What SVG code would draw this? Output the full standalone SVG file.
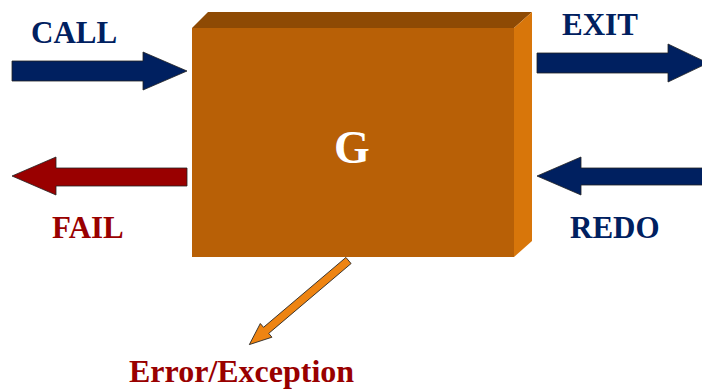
<svg xmlns="http://www.w3.org/2000/svg" width="702" height="390" viewBox="0 0 702 390">
<style>
.lbl{font-family:"Liberation Serif","Times New Roman",serif;font-weight:bold;font-size:31px}
.navy{fill:#002060}
.red{fill:#990000}
.arr{stroke:#222;stroke-width:0.8;stroke-linejoin:miter}
</style>
<rect width="702" height="390" fill="#ffffff"/>
<g id="G">
<polygon points="192,28 208,12 532,12 514,28" fill="#8E4A04"/>
<polygon points="514,28 532,12 532,241 514,257" fill="#D8760A"/>
<rect x="192" y="28" width="322" height="229" fill="#B86006"/>
<text x="352" y="163" text-anchor="middle" font-family="'Liberation Serif','Times New Roman',serif" font-weight="bold" font-size="46" fill="#ffffff">G</text>
</g>
<g id="connectors">
<g id="call">
<polygon class="arr" points="12,61 143,61 143,52 187,71 143,90 143,81 12,81" fill="#002060"/>
</g>
<g id="exit">
<polygon class="arr" points="537,53 668,53 668,44 708,63 668,82 668,73 537,73" fill="#002060"/>
</g>
<g id="fail">
<polygon class="arr" points="187,168 56,168 56,157 12,176 56,195 56,186 187,186" fill="#990000"/>
</g>
<g id="redo">
<polygon class="arr" points="710,168 581,168 581,157 537,176 581,195 581,185 710,185" fill="#002060"/>
</g>
<g id="error">
<polygon class="arr" transform="translate(348.5,260.5) rotate(139.7)" points="0,-4 108,-4 108,-9 130,0 108,9 108,4 0,4" fill="#EE8412"/>
</g>
</g>
<g id="labels">
<text class="lbl navy" x="31" y="43">CALL</text>
<text class="lbl navy" x="562" y="35">EXIT</text>
<text class="lbl red" x="52" y="238">FAIL</text>
<text class="lbl navy" x="570" y="238">REDO</text>
<text class="lbl red" x="129" y="382" style="font-size:32px">Error/Exception</text>
</g>
</svg>
